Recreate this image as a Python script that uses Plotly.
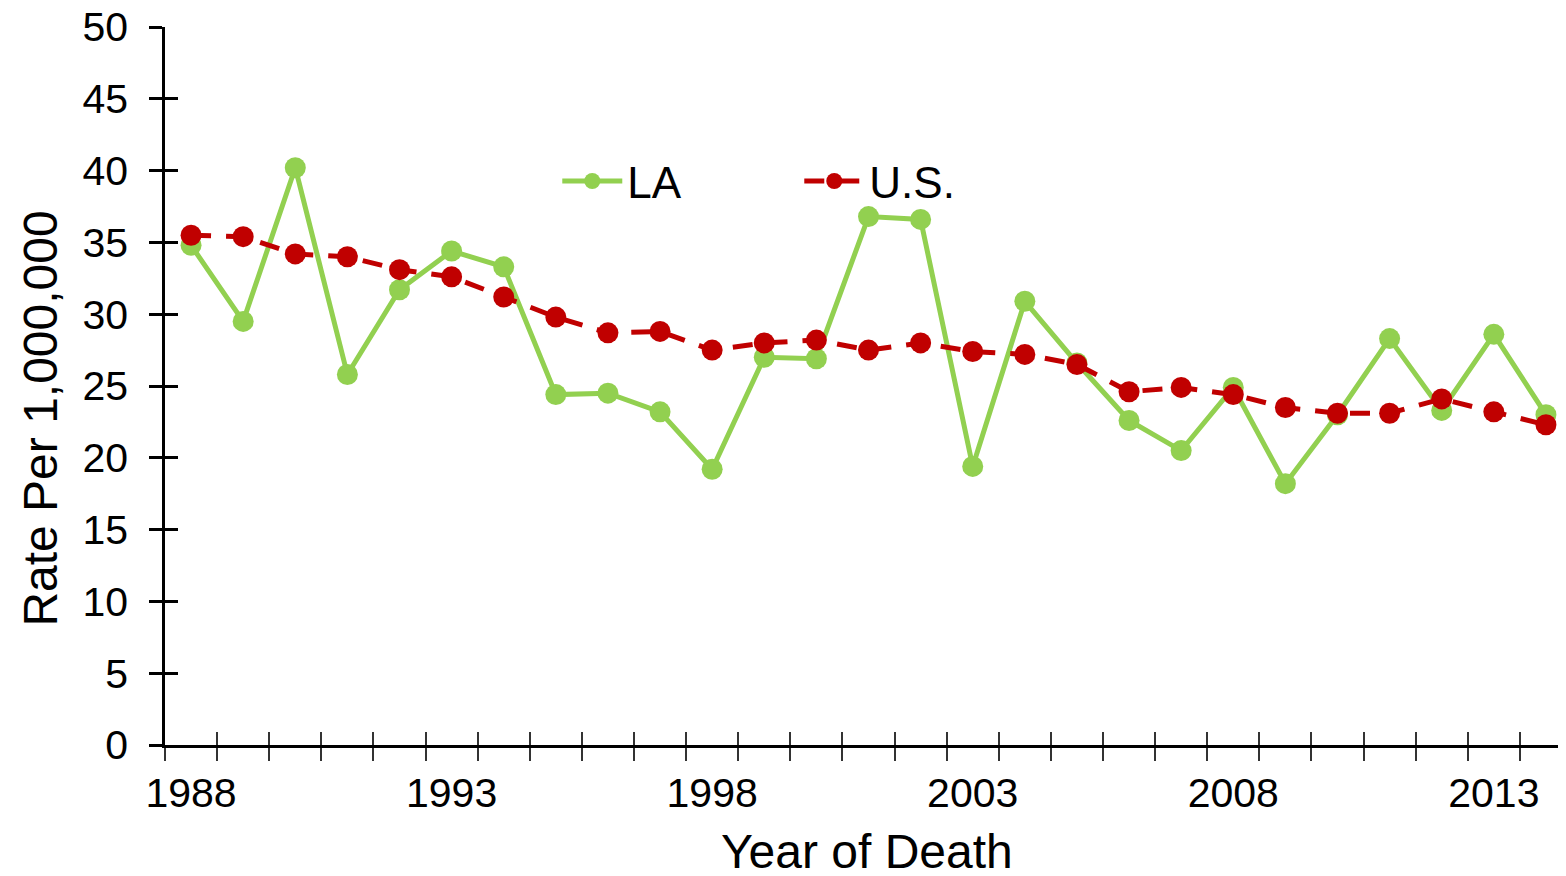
import plotly.graph_objects as go

years = list(range(1988, 2015))
la_rate = [34.8, 29.5, 40.2, 25.8, 31.7, 34.4, 33.3, 24.4, 24.5, 23.2, 19.2, 27.0, 26.9,
           36.8, 36.6, 19.4, 30.9, 26.6, 22.6, 20.5, 24.9, 18.2, 23.0, 28.3, 23.3, 28.6, 23.0]
us_rate = [35.5, 35.4, 34.2, 34.0, 33.1, 32.6, 31.2, 29.8, 28.7, 28.8, 27.5, 28.0, 28.2,
           27.5, 28.0, 27.4, 27.2, 26.5, 24.6, 24.9, 24.4, 23.5, 23.1, 23.1, 24.1, 23.2, 22.3]
label_years = [1988, 1993, 1998, 2003, 2008, 2013]
y_ticks = list(range(0, 55, 5))

FONT = "Liberation Sans, Arial, sans-serif"
GREEN = "#92D050"
RED = "#C00000"

idx = list(range(len(years)))
fig = go.Figure()
fig.add_trace(go.Scatter(x=idx, y=la_rate, name="LA", mode="lines+markers",
                         line=dict(color=GREEN, width=5),
                         marker=dict(color=GREEN, size=21)))
fig.add_trace(go.Scatter(x=idx, y=us_rate, name="U.S.", mode="lines+markers",
                         line=dict(color=RED, width=5, dash="20px,15px"),
                         marker=dict(color=RED, size=21)))
# helper axes for cross tick marks (empty traces)
fig.add_trace(go.Scatter(x=[], y=[], xaxis="x2", yaxis="y2", showlegend=False, hoverinfo="skip"))

boundaries = [i - 0.5 for i in range(len(years) + 1)]
label_pos = [years.index(y) for y in label_years]
xr = [-0.5, 26.385]
yr = [0, 50]

# page body has an 8px default margin; figure sized to fit the window
fig.update_layout(
    width=1558, height=868,
    margin=dict(l=157, r=0, t=19, b=131, autoexpand=False),
    paper_bgcolor="white", plot_bgcolor="white",
    font=dict(family=FONT, color="black"),
    showlegend=True,
    legend=dict(orientation="h", x=0.28, y=0.785, xanchor="left", yanchor="middle",
                font=dict(size=44, family=FONT), entrywidth=167, entrywidthmode="pixels",
                bgcolor="rgba(0,0,0,0)", itemwidth=60),
    xaxis=dict(range=xr, tickvals=label_pos, ticktext=[str(y) for y in label_years],
               ticks="", showgrid=False, zeroline=False, showline=True,
               linecolor="black", linewidth=2.5, automargin=False,
               ticklabeloverflow="allow",
               minor=dict(tickvals=boundaries, ticks="outside", ticklen=13,
                          tickcolor="#333333", tickwidth=1.5, showgrid=False),
               tickfont=dict(size=41), ticklabelstandoff=10),
    yaxis=dict(range=yr, tickvals=y_ticks, ticks="outside", ticklen=13, tickwidth=2.5,
               tickcolor="black", showgrid=False, zeroline=False, showline=True,
               linecolor="black", linewidth=2.5, tickfont=dict(size=41), ticklabelstandoff=13,
               automargin=False, ticklabeloverflow="allow"),
    xaxis2=dict(overlaying="x", anchor="y2", range=xr, tickvals=boundaries, ticks="inside",
                ticklen=13, tickwidth=1.5, tickcolor="#333333", showticklabels=False,
                showgrid=False, zeroline=False, showline=False, side="bottom"),
    yaxis2=dict(overlaying="y", anchor="x2", range=yr, tickvals=y_ticks, ticks="inside",
                ticklen=13, tickwidth=2.5, tickcolor="black", showticklabels=False,
                showgrid=False, zeroline=False, showline=False, side="left"),
    annotations=[
        dict(text="Rate Per 1,000,000", textangle=-90, xref="paper", yref="paper",
             x=-0.089, y=0.455, xanchor="center", yanchor="middle", showarrow=False,
             font=dict(size=48, family=FONT, color="black")),
        dict(text="Year of Death", xref="paper", yref="paper",
             x=0.501, y=-0.149, xanchor="center", yanchor="middle", showarrow=False,
             font=dict(size=48, family=FONT, color="black")),
    ],
)

fig.write_html("out.html")
